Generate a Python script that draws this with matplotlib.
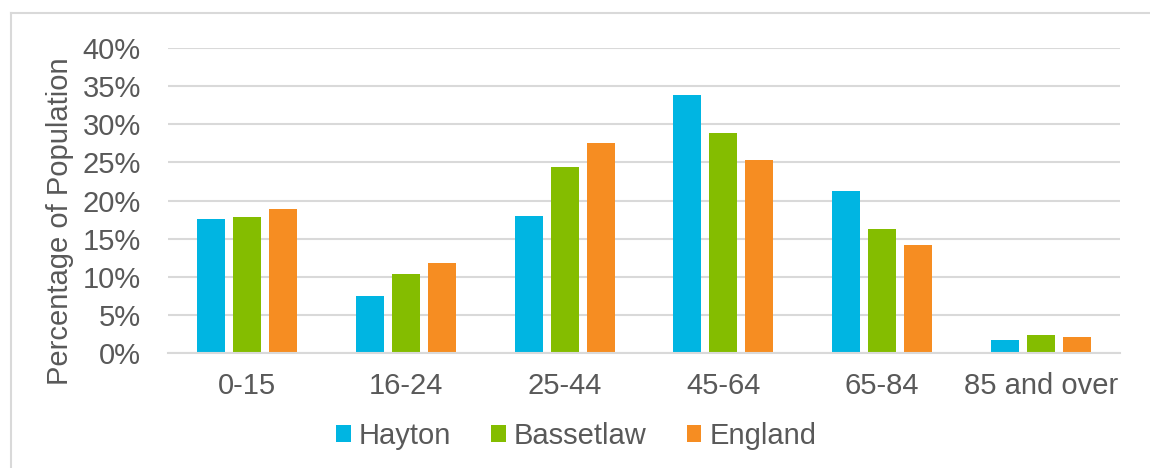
import numpy as np
import matplotlib
matplotlib.use("Agg")
import matplotlib.pyplot as plt
from matplotlib.lines import Line2D

# age bands and share of population (%)
age_bands = ["0-15", "16-24", "25-44", "45-64", "65-84", "85 and over"]
hayton = [17.6, 7.5, 18.0, 33.9, 21.3, 1.7]
bassetlaw = [17.9, 10.4, 24.4, 28.8, 16.3, 2.3]
england = [18.9, 11.8, 27.6, 25.3, 14.1, 2.1]
series_names = ["Hayton", "Bassetlaw", "England"]
y_ticks = [0, 5, 10, 15, 20, 25, 30, 35, 40]

colors = ["#00B5E2", "#84BD00", "#F68D22"]
txt = "#595959"
grid_c = "#D9D9D9"
fs = 21

plt.rcParams["font.family"] = ["Liberation Sans", "DejaVu Sans"]

W, H = 1150, 468
fig = plt.figure(figsize=(W / 100, H / 100), dpi=100)
ax = fig.add_axes([168 / W, 1 - 353 / H, (1120 - 168) / W, (353 - 48) / H])

x = np.arange(len(age_bands))
step, bw = 0.227, 0.176
for k, (name, vals) in enumerate(zip(series_names, [hayton, bassetlaw, england])):
    ax.bar(x + (k - 1) * step, vals, bw, color=colors[k], label=name, zorder=2)

ax.set_xlim(-0.5, len(age_bands) - 0.5)
ax.set_ylim(0, 40)
ax.set_yticks(y_ticks)
ax.set_yticklabels([f"{t}%" for t in y_ticks])
ax.set_xticks(x)
ax.set_xticklabels(age_bands)
ax.tick_params(axis="both", length=0, labelsize=fs, labelcolor=txt)
ax.tick_params(axis="y", pad=19.5)
ax.tick_params(axis="x", pad=13.5)
ax.grid(axis="y", color=grid_c, lw=1.5, zorder=0)
for s in ("top", "right", "left"):
    ax.spines[s].set_visible(False)
ax.spines["bottom"].set_color(grid_c)
ax.spines["bottom"].set_linewidth(1.5)

fig.text(60 / W, 1 - 221 / H, "Percentage of Population", rotation=90,
         ha="center", va="center", fontsize=fs, color=txt)

leg = fig.legend(loc="center", bbox_to_anchor=(0.501, 1 - 436 / H), ncol=3,
                 frameon=False, fontsize=fs, handlelength=0.51, handleheight=0.51,
                 handletextpad=0.27, columnspacing=1.37, borderpad=0)
for t in leg.get_texts():
    t.set_color(txt)

# chart-area border (only left/top visible in the crop)
fig.add_artist(Line2D([11 / W, 11 / W], [1 - 13 / H, 0], color=grid_c, lw=1.5))
fig.add_artist(Line2D([11 / W, 1], [1 - 13 / H, 1 - 13 / H], color=grid_c, lw=1.5))

fig.savefig("out.png", dpi=100)
